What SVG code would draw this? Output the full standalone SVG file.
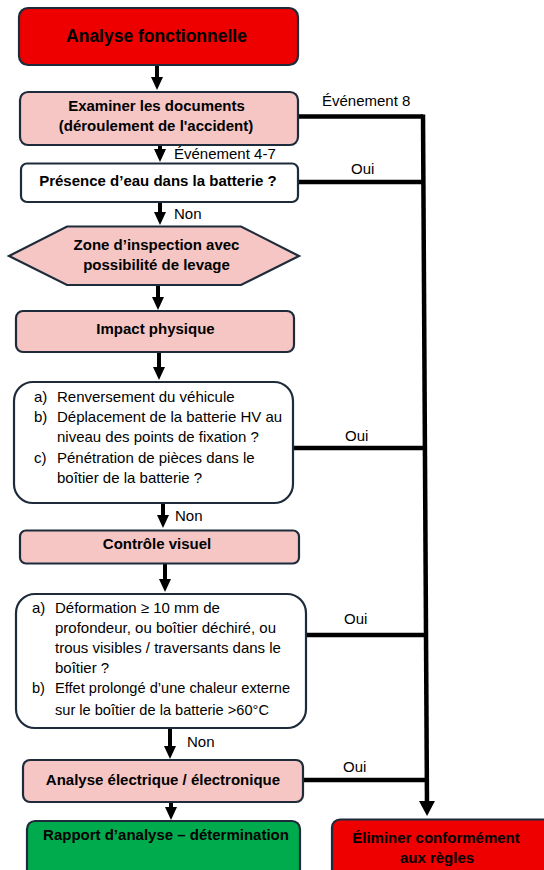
<svg xmlns="http://www.w3.org/2000/svg" width="544" height="870" viewBox="0 0 544 870">
<style>
.box{stroke:#1d2b3a;stroke-width:2.2}
.red{fill:#ee0000}
.pink{fill:#f5c6c4}
.white{fill:#ffffff}
.green{fill:#00ab4e}
.t{font-family:"Liberation Sans",Arial,sans-serif;fill:#000}
.b{font-weight:bold;font-size:15px;text-anchor:middle}
.r{font-size:15px}
.r2{font-size:14.6px}
.c{fill:none;stroke:#000;stroke-width:4.5}
.s{fill:none;stroke:#000;stroke-width:4}
</style>
<defs>
<marker id="ah" markerUnits="userSpaceOnUse" markerWidth="13" markerHeight="12" viewBox="0 0 13 12" refX="5" refY="6" orient="auto">
<path d="M0,0 L13,6 L0,12 Z" fill="#000"/>
</marker>
<marker id="ahb" markerUnits="userSpaceOnUse" markerWidth="15" markerHeight="16" viewBox="0 0 15 16" refX="5" refY="8" orient="auto">
<path d="M0,0 L15,8 L0,16 Z" fill="#000"/>
</marker>
</defs>
<rect width="544" height="870" fill="#fff"/>

<g id="connectors">
<line class="s" x1="157" y1="66" x2="157" y2="82" marker-end="url(#ah)"/>
<line class="s" x1="160" y1="146" x2="160" y2="154" marker-end="url(#ah)"/>
<line class="s" x1="160" y1="203" x2="160" y2="217" marker-end="url(#ah)"/>
<line class="s" x1="158" y1="286" x2="158" y2="302" marker-end="url(#ah)"/>
<line class="s" x1="159" y1="353" x2="159" y2="372" marker-end="url(#ah)"/>
<line class="s" x1="163" y1="504" x2="163" y2="520" marker-end="url(#ah)"/>
<line class="s" x1="165" y1="564" x2="165" y2="584" marker-end="url(#ah)"/>
<line class="s" x1="170" y1="729" x2="170" y2="751" marker-end="url(#ah)"/>
<line class="s" x1="171" y1="803" x2="171" y2="812" marker-end="url(#ah)"/>
<polyline class="c" points="298,116.5 423,116.5"/>
<line class="c" x1="423" y1="114.5" x2="427" y2="806" marker-end="url(#ahb)"/>
<line class="c" x1="298" y1="182" x2="423" y2="182"/>
<line class="c" x1="293" y1="448" x2="425" y2="448"/>
<line class="c" x1="306" y1="635" x2="426" y2="635"/>
<line class="c" x1="303" y1="780" x2="427" y2="780"/>
<text class="t r" x="322" y="106">Événement 8</text>
<text class="t r" x="174" y="159">Événement 4-7</text>
<text class="t r" x="351" y="174">Oui</text>
<text class="t r" x="174" y="219">Non</text>
<text class="t r" x="345" y="441">Oui</text>
<text class="t r" x="175" y="521">Non</text>
<text class="t r" x="344" y="624">Oui</text>
<text class="t r" x="187" y="747">Non</text>
<text class="t r" x="343" y="772">Oui</text>
</g>

<g id="n-analyse">
<rect class="box red" x="19" y="8" width="279" height="57" rx="9"/>
<text class="t b" x="156.5" y="42" style="font-size:17.5px">Analyse fonctionnelle</text>
</g>

<g id="n-examiner">
<rect class="box pink" x="20" y="92" width="278" height="53" rx="8"/>
<text class="t b" x="156.5" y="111">Examiner les documents</text>
<text class="t b" x="156" y="130.5">(déroulement de l'accident)</text>
</g>

<g id="n-eau">
<rect class="box white" x="21" y="163.5" width="277" height="38.5" rx="6"/>
<text class="t b" x="158" y="185.5">Présence d’eau dans la batterie ?</text>
</g>

<g id="n-zone">
<polygon class="box pink" points="9,256 67,226.5 241,226.5 299,256 241,285 67,285"/>
<text class="t b" x="156.5" y="249.5">Zone d’inspection avec</text>
<text class="t b" x="156.5" y="270">possibilité de levage</text>
</g>

<g id="n-impact">
<rect class="box pink" x="16" y="311" width="278" height="41" rx="7"/>
<text class="t b" x="155.5" y="333.5">Impact physique</text>
</g>

<g id="n-liste1">
<rect class="box white" x="14" y="382" width="279" height="121" rx="19"/>
<text class="t r" x="34" y="402">a)</text>
<text class="t r" x="57" y="402">Renversement du véhicule</text>
<text class="t r" x="34" y="422">b)</text>
<text class="t r" x="57" y="422">Déplacement de la batterie HV au</text>
<text class="t r" x="57" y="442">niveau des points de fixation ?</text>
<text class="t r" x="34" y="462.5">c)</text>
<text class="t r" x="57" y="462.5">Pénétration de pièces dans le</text>
<text class="t r" x="57" y="482.5">boîtier de la batterie ?</text>
</g>

<g id="n-controle">
<rect class="box pink" x="20" y="530.5" width="279" height="33" rx="6"/>
<text class="t b" x="157" y="548.5">Contrôle visuel</text>
</g>

<g id="n-liste2">
<rect class="box white" x="16" y="594" width="290" height="134" rx="19"/>
<text class="t r" x="32" y="613">a)</text>
<text class="t r" x="55" y="613">Déformation ≥ 10 mm de</text>
<text class="t r" x="55" y="633">profondeur, ou boîtier déchiré, ou</text>
<text class="t r" x="55" y="652.5">trous visibles / traversants dans le</text>
<text class="t r" x="55" y="672.5">boîtier ?</text>
<text class="t r2" x="32" y="693">b)</text>
<text class="t r2" x="55" y="693">Effet prolongé d’une chaleur externe</text>
<text class="t r2" x="55" y="715">sur le boîtier de la batterie &gt;60°C</text>
</g>

<g id="n-electrique">
<rect class="box pink" x="23" y="760" width="280" height="42" rx="7"/>
<text class="t b" x="163" y="784.5">Analyse électrique / électronique</text>
</g>

<g id="n-rapport">
<rect class="box green" x="27" y="821" width="273" height="60" rx="8"/>
<text class="t b" x="166" y="840">Rapport d’analyse – détermination</text>
</g>

<g id="n-eliminer">
<rect class="box red" x="332" y="819.5" width="220" height="60" rx="8"/>
<text class="t b" x="436" y="843">Éliminer conformément</text>
<text class="t b" x="437" y="862.5">aux règles</text>
</g>
</svg>
